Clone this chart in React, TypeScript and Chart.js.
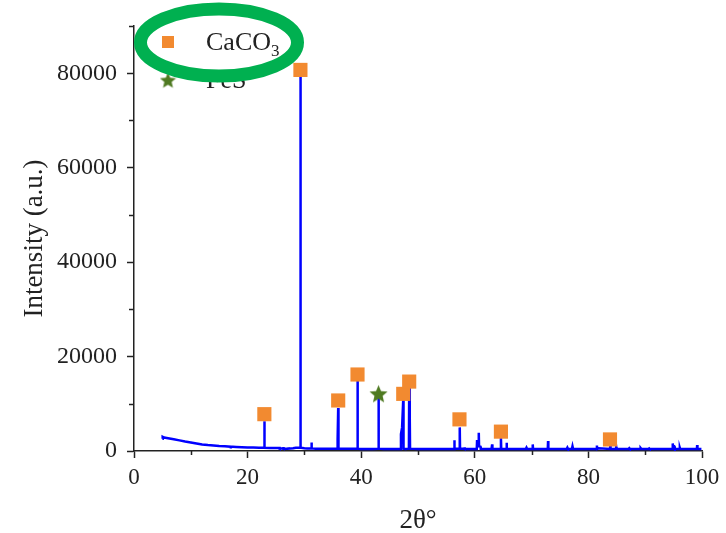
import React, { useEffect, useRef } from "react";
import { Chart, registerables } from "chart.js";

Chart.register(...registerables);

// XRD pattern (2θ in degrees, intensity in a.u.) — each line of twoTheta matches the same line of intensity
const twoTheta = [
  5.0, 5.05, 5.3, 6, 7, 8, 9, 10, 11, 12, 13, 14, 15, 16, 17, 17.05, 17.1, 17.4, 18, 19, 20, 21, 22,
  22.9, 22.95, 23.0, 24, 25, 25.55, 25.6, 25.65, 26.25, 26.3, 26.35, 27.15, 27.2, 27.25, 28, 28.5, 29.25, 29.3, 29.35,
  30, 30.5, 31.2, 31.25, 31.3, 32, 34, 35.75, 35.8, 35.9, 35.95, 36.0, 37, 39.3, 39.35, 39.4, 40, 42,
  43.0, 43.05, 43.1, 44, 46.9, 47.0, 47.2, 47.35, 47.4, 47.45, 47.8, 48.4, 48.45, 48.55, 48.6, 50, 56,
  56.35, 56.4, 56.45, 57.3, 57.35, 57.4, 58.15, 58.2, 58.25, 60.35, 60.4, 60.45, 60.65, 60.7, 60.75, 61.0, 61.05, 62.95,
  63.0, 63.05, 63.1, 64.55, 64.6, 64.65, 65.55, 65.6, 65.65, 69.0, 69.1, 69.2, 70.15, 70.2, 70.25, 72.85, 72.9, 72.95,
  76.2, 76.3, 76.4, 77.1, 77.2, 77.3, 81.45, 81.5, 81.55, 81.8, 83.8, 83.85, 83.9, 84.85, 84.9, 84.95,
  87.1, 87.2, 87.3, 89.1, 89.2, 89.3, 90.6, 90.7, 90.8, 94.8, 94.85, 94.9, 95.1, 95.2, 96.05, 96.1, 96.15, 99.1, 99.15, 99.2, 99.9,
];
const intensity = [
  2600, 3000, 2850, 2700, 2500, 2250, 2000, 1800, 1600, 1400, 1250, 1150, 1050, 980, 920, 600, 900, 880, 850, 800, 760, 720, 700,
  700, 6300, 700, 650, 620, 620, 900, 550, 550, 850, 500, 500, 800, 500, 600, 700, 700, 80300, 700,
  600, 550, 550, 1800, 550, 500, 480, 500, 2500, 2500, 9100, 500, 480, 500, 15000, 500, 450, 450,
  500, 11200, 500, 450, 450, 3600, 5000, 5000, 10900, 500, 450, 500, 13400, 7000, 500, 450, 450,
  450, 2300, 500, 500, 5000, 500, 500, 800, 450, 450, 2300, 1200, 1200, 3850, 1000, 900, 450, 450,
  450, 1400, 450, 450, 2800, 450, 450, 1750, 450, 450, 700, 450, 450, 1400, 450, 450, 2100, 450,
  450, 700, 450, 450, 1000, 450, 450, 1150, 450, 600, 450, 1050, 450, 450, 850, 450,
  450, 600, 450, 450, 600, 450, 450, 550, 450, 450, 1600, 1000, 1000, 450, 450, 650, 450, 450, 1250, 450, 450,
];

// Phase markers
const caco3Theta = [22.95, 29.3, 35.95, 39.35, 47.4, 48.45, 57.3, 64.6, 83.8];
const caco3Int = [7800, 80700, 10700, 16200, 12100, 14700, 6700, 4100, 2450];
const fesTheta = [43.05];
const fesInt = [12100];

// Axes
const xMajor = [0, 20, 40, 60, 80, 100];
const xMinor = [10, 30, 50, 70, 90];
const yMajor = [0, 20000, 40000, 60000, 80000];
const yMinor = [10000, 30000, 50000, 70000, 90000];

const ORANGE = "#F28A30";
const STAR_GREEN = "#4F7A22";
const FONT = "'Liberation Serif', 'Times New Roman', serif";

function makeStar(size: number, color: string) {
  const c = document.createElement("canvas");
  c.width = size;
  c.height = size;
  const g = c.getContext("2d")!;
  const cx = size / 2, cy = size / 2 + 0.8;
  const R = size / 2, r = R * 0.45;
  g.beginPath();
  for (let i = 0; i < 10; i++) {
    const a = -Math.PI / 2 + (i * Math.PI) / 5;
    const rad = i % 2 === 0 ? R : r;
    const px = cx + rad * Math.cos(a), py = cy + rad * Math.sin(a);
    if (i === 0) g.moveTo(px, py); else g.lineTo(px, py);
  }
  g.closePath();
  g.fillStyle = color;
  g.fill();
  return c;
}

export default function App() {
  const ref = useRef<HTMLCanvasElement>(null);

  useEffect(() => {
    const star = makeStar(19, STAR_GREEN);
    const legendStar = makeStar(17, STAR_GREEN);

    const overlay = {
      id: "overlay",
      afterDraw(chart: any) {
        const ctx = chart.ctx as CanvasRenderingContext2D;
        const xs = chart.scales.x, ys = chart.scales.y;
        const area = chart.chartArea;
        ctx.save();
        // minor ticks
        ctx.strokeStyle = "#222";
        ctx.lineWidth = 1.5;
        yMinor.forEach((v) => {
          const p = Math.round(ys.getPixelForValue(v)) + 0.5;
          ctx.beginPath();
          ctx.moveTo(area.left - 5, p);
          ctx.lineTo(area.left, p);
          ctx.stroke();
        });
        xMinor.forEach((v) => {
          const p = Math.round(xs.getPixelForValue(v)) + 0.5;
          ctx.beginPath();
          ctx.moveTo(p, area.bottom);
          ctx.lineTo(p, area.bottom + 4);
          ctx.stroke();
        });
        // legend
        ctx.fillStyle = ORANGE;
        ctx.fillRect(162, 36, 12, 12);
        ctx.drawImage(legendStar, 168 - 8.5, 80 - 8.5);
        ctx.fillStyle = "#222";
        ctx.textAlign = "left";
        ctx.textBaseline = "alphabetic";
        ctx.font = `26px ${FONT}`;
        ctx.fillText("CaCO", 206, 50);
        const w = ctx.measureText("CaCO").width;
        ctx.font = `17px ${FONT}`;
        ctx.fillText("3", 206 + w, 56);
        ctx.font = `26px ${FONT}`;
        ctx.fillText("FeS", 206, 88);
        // highlight ellipse
        ctx.beginPath();
        ctx.ellipse(219, 42.5, 78.5, 33.5, 0, 0, Math.PI * 2);
        ctx.strokeStyle = "#00B050";
        ctx.lineWidth = 13;
        ctx.stroke();
        ctx.restore();
      },
    };

    const chart = new Chart(ref.current!, {
      type: "line",
      data: {
        datasets: [
          {
            label: "CaCO₃",
            type: "scatter",
            data: caco3Theta.map((x, i) => ({ x, y: caco3Int[i] })),
            pointStyle: "rect",
            pointRadius: 10,
            backgroundColor: ORANGE,
            borderColor: ORANGE,
            pointBorderWidth: 0,
            showLine: false,
          } as any,
          {
            label: "FeS",
            type: "scatter",
            data: fesTheta.map((x, i) => ({ x, y: fesInt[i] })),
            pointStyle: star as any,
            pointRadius: 10,
            showLine: false,
          } as any,
          {
            label: "XRD",
            data: twoTheta.map((x, i) => ({ x, y: intensity[i] })),
            borderColor: "#0000FF",
            borderWidth: 2.5,
            pointRadius: 0,
            tension: 0,
            fill: false,
          },
        ],
      },
      options: {
        responsive: false,
        animation: false,
        devicePixelRatio: 1,
        events: [],
        layout: { padding: { left: 0, right: 24, top: 26, bottom: 0 } },
        plugins: { legend: { display: false }, tooltip: { enabled: false } },
        scales: {
          x: {
            type: "linear",
            min: 0,
            max: 100,
            afterFit: (s: any) => { s.height = 82; },
            afterBuildTicks: (s: any) => { s.ticks = xMajor.map((v) => ({ value: v })); },
            grid: { display: true, drawOnChartArea: false, drawTicks: true, tickLength: 7, tickColor: "#222", tickWidth: 1.5 },
            border: { display: true, color: "#222", width: 1.5 },
            ticks: {
              color: "#222",
              font: { family: FONT, size: 23 },
              padding: 6,
              maxRotation: 0,
              autoSkip: false,
              callback: (v: any) => String(v),
            },
            title: {
              display: true,
              text: "2θ°",
              color: "#222",
              font: { family: FONT, size: 27, lineHeight: 0.88 },
              padding: { top: 0, bottom: 0 },
            },
          },
          y: {
            type: "linear",
            min: 0,
            max: 90000,
            afterFit: (s: any) => { s.width = 134; },
            afterBuildTicks: (s: any) => { s.ticks = yMajor.map((v) => ({ value: v })); },
            grid: { display: true, drawOnChartArea: false, drawTicks: true, tickLength: 7, tickColor: "#222", tickWidth: 1.5 },
            border: { display: true, color: "#222", width: 1.5 },
            ticks: {
              color: "#222",
              font: { family: FONT, size: 24 },
              padding: 10,
              autoSkip: false,
              callback: (v: any) => String(v),
            },
            title: {
              display: true,
              text: "Intensity (a.u.)",
              color: "#222",
              font: { family: FONT, size: 27, lineHeight: 1.2 },
              padding: { top: 19, bottom: 0 },
            },
          },
        },
      },
      plugins: [overlay],
    });
    return () => chart.destroy();
  }, []);

  return (
    <div style={{ position: "absolute", left: 0, top: 0, width: 726, height: 533, background: "#fff" }}>
      <canvas ref={ref} width={726} height={533} />
    </div>
  );
}
